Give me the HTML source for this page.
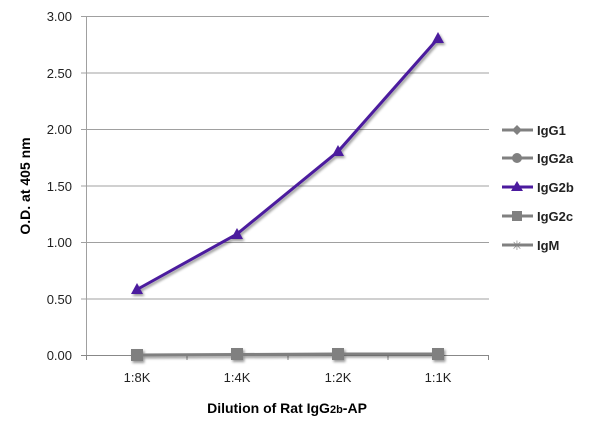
<!DOCTYPE html>
<html><head><style>body{margin:0;background:#fff}</style></head><body>
<svg width="600" height="430" xmlns="http://www.w3.org/2000/svg" font-family="Liberation Sans, sans-serif">
<defs><filter id="s"><feDropShadow dx="1.5" dy="2" stdDeviation="1.2" flood-opacity="0.4"/></filter></defs>
<g stroke="#a0a0a0" stroke-width="1">
<line x1="81" x2="489" y1="16.5" y2="16.5"/><line x1="81" x2="489" y1="73" y2="73"/>
<line x1="81" x2="489" y1="129.5" y2="129.5"/><line x1="81" x2="489" y1="186" y2="186"/>
<line x1="81" x2="489" y1="242.5" y2="242.5"/><line x1="81" x2="489" y1="299" y2="299"/>
<line x1="86.5" x2="86.5" y1="16" y2="355"/>
</g>
<g stroke="#888" stroke-width="1"><line x1="81" x2="489" y1="355.5" y2="355.5"/>
<line x1="86.5" x2="86.5" y1="355" y2="360"/><line x1="187" x2="187" y1="355" y2="360"/><line x1="288" x2="288" y1="355" y2="360"/><line x1="388" x2="388" y1="355" y2="360"/><line x1="488.5" x2="488.5" y1="355" y2="360"/></g>
<g font-size="13" fill="#222" text-anchor="end">
<text x="72" y="21">3.00</text><text x="72" y="78">2.50</text><text x="72" y="134">2.00</text><text x="72" y="191">1.50</text><text x="72" y="247">1.00</text><text x="72" y="304">0.50</text><text x="72" y="360">0.00</text></g>
<g font-size="13" fill="#222" text-anchor="middle">
<text x="137" y="382">1:8K</text><text x="237" y="382">1:4K</text><text x="338" y="382">1:2K</text><text x="438" y="382">1:1K</text></g>
<text x="287" y="413" font-size="14" font-weight="bold" text-anchor="middle">Dilution of Rat IgG<tspan font-size="11">2b</tspan>-AP</text>
<text transform="translate(30,186) rotate(-90)" font-size="14" font-weight="bold" text-anchor="middle">O.D. at 405 nm</text>
<g filter="url(#s)">
<polyline points="137,355 237,354.5 338,354 438,354" fill="none" stroke="#808080" stroke-width="3"/>
<rect x="131" y="349" width="12" height="12" fill="#808080"/><rect x="231" y="348" width="12" height="12" fill="#808080"/>
<rect x="332" y="348" width="12" height="12" fill="#808080"/><rect x="432" y="348" width="12" height="12" fill="#808080"/>
<polyline points="137,289.5 237,234 338,151.5 438,38.5" fill="none" stroke="#4b1a9e" stroke-width="3"/>
<g fill="#4b1a9e"><polygon points="137,283 143,294 131,294"/><polygon points="237,228 243,239 231,239"/><polygon points="338,145 344,156 332,156"/><polygon points="438,32 444,43 432,43"/></g>
</g>
<g font-size="13" font-weight="bold" fill="#222">
<line x1="502" x2="533" y1="130" y2="130" stroke="#808080" stroke-width="3"/><polygon points="517,125 522,130 517,135 512,130" fill="#808080"/><text x="537" y="135">IgG1</text>
<line x1="502" x2="533" y1="158" y2="158" stroke="#808080" stroke-width="3"/><circle cx="517" cy="158" r="5" fill="#808080"/><text x="537" y="163">IgG2a</text>
<line x1="502" x2="533" y1="187" y2="187" stroke="#4b1a9e" stroke-width="3"/><polygon points="517,181 523,191 511,191" fill="#4b1a9e"/><text x="537" y="192">IgG2b</text>
<line x1="502" x2="533" y1="216" y2="216" stroke="#808080" stroke-width="3"/><rect x="512" y="211" width="10" height="10" fill="#808080"/><text x="537" y="221">IgG2c</text>
<line x1="502" x2="533" y1="245" y2="245" stroke="#808080" stroke-width="3"/><text x="517" y="250" font-size="13" text-anchor="middle" fill="#808080" font-weight="normal">✳</text><text x="537" y="250">IgM</text>
</g>
</svg>
</body></html>
